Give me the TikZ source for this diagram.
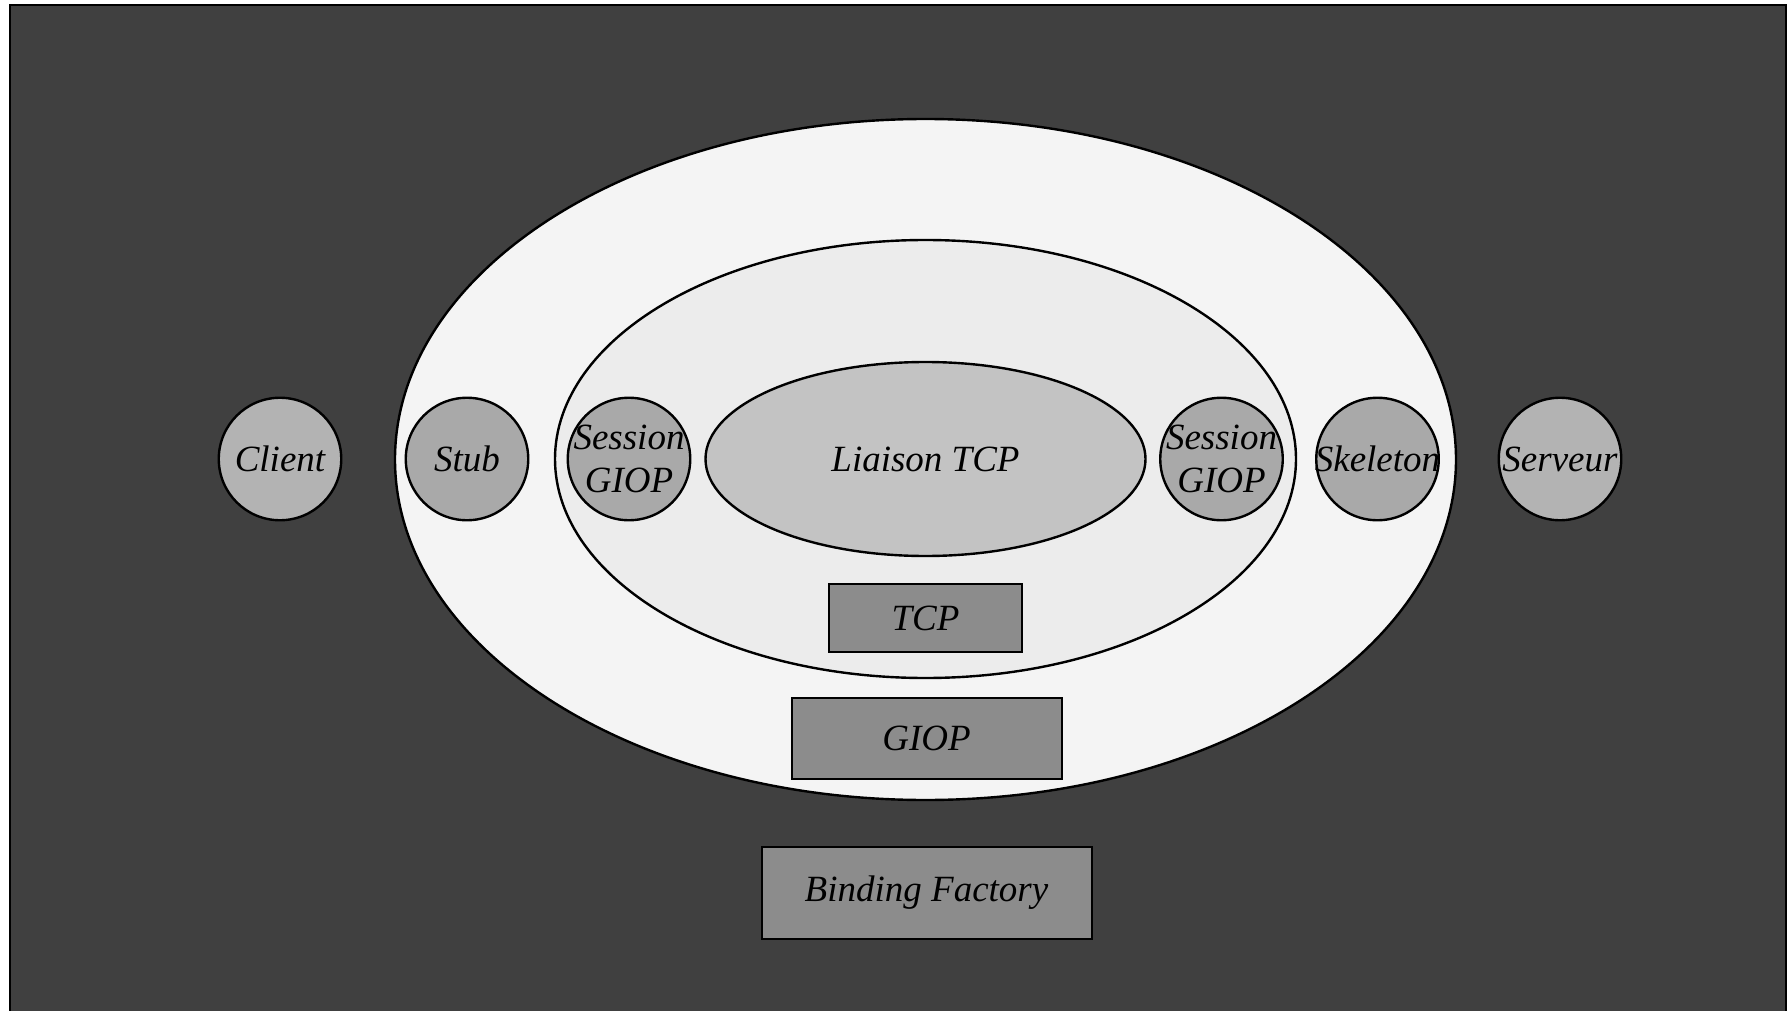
\documentclass[tikz,border=0pt]{standalone}
\usepackage{fontspec}
\setmainfont{Liberation Serif}
\usetikzlibrary{shapes.geometric}
\definecolor{bgdark}{HTML}{404040}
\definecolor{ellA}{HTML}{F4F4F4}
\definecolor{ellB}{HTML}{ECECEC}
\definecolor{ellC}{HTML}{C3C3C3}
\definecolor{circLight}{HTML}{B3B3B3}
\definecolor{circMid}{HTML}{A9A9A9}
\definecolor{boxgray}{HTML}{8C8C8C}
\tikzset{
  lbl/.style={font=\fontsize{37}{43.5}\selectfont\itshape, text=black, align=center, inner sep=0pt},
  ringell/.style={ellipse, draw=black, line width=2.4pt, inner sep=0pt},
  endcirc/.style={lbl, circle, draw=black, line width=2.4pt, minimum size=122.5pt, inner sep=-40pt, fill=circLight},
  midcirc/.style={lbl, circle, draw=black, line width=2.4pt, minimum size=122.5pt, inner sep=-40pt, fill=circMid},
  layerbox/.style={lbl, rectangle, draw=black, line width=2pt, fill=boxgray}
}
\begin{document}
\begin{tikzpicture}[x=1pt,y=-1pt]
\useasboundingbox (0,0) rectangle (1791,1011);
\clip (0,0) rectangle (1791,1011);
\fill[white] (0,0) rectangle (1791,1011);
\draw[fill=bgdark, draw=black, line width=2.2pt] (10,5) rectangle (1786,1030);
\node[ringell, fill=ellA, minimum width=1061pt, minimum height=681pt] (outer) at (925.5,459.5) {};
\node[ringell, fill=ellB, minimum width=741pt, minimum height=438pt] (middle) at (925.5,459) {};
\node[ringell, lbl, fill=ellC, minimum width=440pt, minimum height=194pt, line width=2.4pt] (liaison) at (925.5,459) {Liaison TCP};
\node[endcirc] (client) at (280,459) {Client};
\node[midcirc] (stub) at (467,459) {Stub};
\node[midcirc] (sess1) at (629,459) {Session\\GIOP};
\node[midcirc] (sess2) at (1221.5,459) {Session\\GIOP};
\node[midcirc] (skel) at (1377.5,459) {Skeleton};
\node[endcirc] (serv) at (1560,459) {Serveur};
\node[layerbox, minimum width=193pt, minimum height=68pt] (tcp) at (925.5,618) {TCP};
\node[layerbox, minimum width=270pt, minimum height=81pt] (giop) at (926.5,738) {GIOP};
\node[layerbox, minimum width=330pt, minimum height=92pt] (bf) at (926.5,892.5) {Binding Factory};
\end{tikzpicture}
\end{document}
